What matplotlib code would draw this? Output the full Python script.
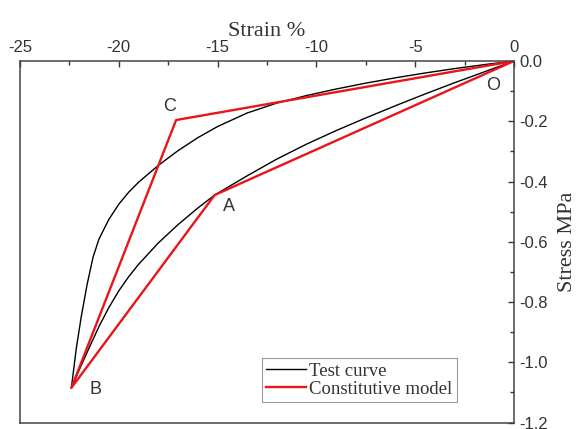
import matplotlib
matplotlib.use("Agg")
import matplotlib.pyplot as plt
from matplotlib.ticker import MultipleLocator

plt.rcParams['axes.unicode_minus'] = False

# test curve, loading branch O -> B (strain %, stress MPa)
load_strain = [0, -1.5, -3, -4.5, -6, -7.5, -9, -10.5, -12, -13.5, -15.15, -16, -17,
               -18, -19, -19.5, -20, -20.5, -21, -21.5, -22, -22.4]
load_stress = [0, -0.036, -0.072, -0.1095, -0.1485, -0.189, -0.231, -0.276, -0.3255,
               -0.381, -0.445, -0.488, -0.543, -0.604, -0.675, -0.716, -0.763, -0.818,
               -0.881, -0.952, -1.025, -1.085]

# test curve, unloading branch B -> O
unload_strain = [0, -1.5, -3, -4.5, -6, -7.5, -9, -10.5, -12, -13.5, -15, -16, -17,
                 -18, -19, -19.5, -20, -20.5, -21, -21.3, -21.6, -21.9, -22.15, -22.4]
unload_stress = [0, -0.012, -0.0252, -0.0398, -0.0558, -0.0735, -0.093, -0.1148, -0.1395,
                 -0.1725, -0.2175, -0.2545, -0.2975, -0.3465, -0.4025, -0.4355, -0.4755,
                 -0.5255, -0.5905, -0.6505, -0.7405, -0.8485, -0.9535, -1.085]

# constitutive model key points O, C, B, A, O
model_names = ["O", "C", "B", "A", "O"]
model_strain = [0, -17.1, -22.4, -15.15, 0]
model_stress = [0, -0.196, -1.085, -0.445, 0]

# label positions for the key points
label_names = ["O", "C", "B", "A"]
label_x = [-1.05, -17.42, -21.19, -14.44]
label_y = [-0.082, -0.152, -1.09, -0.484]

dark = "#333333"

fig = plt.figure(figsize=(5.76, 4.29), dpi=100)
ax = fig.add_axes([20 / 576, 1 - 422.5 / 429, 494 / 576, 361.5 / 429])

ax.plot(load_strain, load_stress, color="black", lw=1.0, label="Test curve")
ax.plot(unload_strain, unload_stress, color="black", lw=1.0)
ax.plot(model_strain, model_stress, color="#e8151b", lw=1.7, label="Constitutive model")

for name, lx, ly in zip(label_names, label_x, label_y):
    ax.text(lx, ly, name, fontsize=13, color=dark, ha="center", va="center",
            family="Liberation Sans")

ax.set_xlim(-25, 0)
ax.set_ylim(-1.2, 0)

ax.xaxis.tick_top()
ax.xaxis.set_label_position("top")
ax.yaxis.tick_right()
ax.yaxis.set_label_position("right")

ax.xaxis.set_major_locator(MultipleLocator(5))
ax.xaxis.set_minor_locator(MultipleLocator(2.5))
ax.yaxis.set_major_locator(MultipleLocator(0.2))
ax.yaxis.set_minor_locator(MultipleLocator(0.1))
ax.yaxis.set_major_formatter(plt.FormatStrFormatter("%.1f"))

ax.tick_params(which="both", direction="in", colors=dark, top=True, right=True,
               bottom=False, left=False)
ax.tick_params(which="major", length=4.5, width=1.0, labelsize=12, pad=4)
ax.tick_params(which="minor", length=3, width=1.0)
for lab in ax.get_xticklabels() + ax.get_yticklabels():
    lab.set_family("Liberation Sans")

for sp in ax.spines.values():
    sp.set_color("#444444")
    sp.set_linewidth(1.1)

ax.set_xlabel("Strain %", fontsize=16, family="Liberation Serif", color=dark, labelpad=3)
ax.set_ylabel("Stress MPa", fontsize=16, family="Liberation Serif", color=dark,
              labelpad=7, rotation=90)

leg = ax.legend(loc="lower left", bbox_to_anchor=(0.489, 0.056), borderaxespad=0,
                prop={"family": "Liberation Serif", "size": 13.5}, handlelength=2.1,
                handletextpad=0.2, borderpad=0.25, labelspacing=0.05,
                fancybox=False, framealpha=1, edgecolor="#999999")
leg.get_frame().set_linewidth(0.8)
for t in leg.get_texts():
    t.set_color(dark)

fig.savefig("out.png", dpi=100)
